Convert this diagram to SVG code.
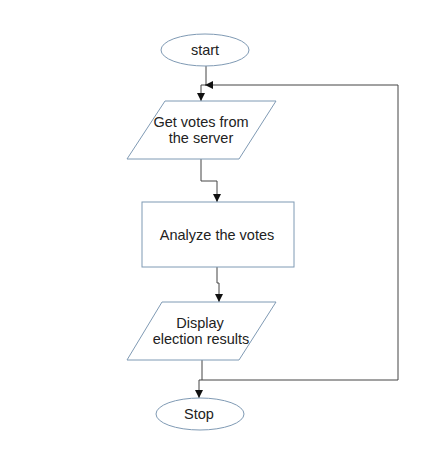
<svg xmlns="http://www.w3.org/2000/svg" width="431" height="456" viewBox="0 0 431 456">
<style>
.shape{fill:#fff;stroke:#7f9ab4;stroke-width:1}
.conn{fill:none;stroke:#444;stroke-width:1}
text{font-family:"Liberation Sans",Arial,sans-serif;font-size:14.5px;fill:#222;text-anchor:middle}
</style>
<defs>
<marker id="arr" viewBox="0 0 10 10" refX="10" refY="5" markerWidth="8" markerHeight="8" markerUnits="userSpaceOnUse" orient="auto">
<path d="M0,0 L10,5 L0,10 Z" fill="#111"/>
</marker>
</defs>
<rect width="431" height="456" fill="#fff"/>
<g id="connectors">
<path class="conn" d="M206,66 V85 H201 V101" marker-end="url(#arr)"/>
<path class="conn" d="M201,159 V181 H217 V202" marker-end="url(#arr)"/>
<path class="conn" d="M217,267 V283 H219 V302" marker-end="url(#arr)"/>
<path class="conn" d="M202,360 V380 H199 V398" marker-end="url(#arr)"/>
<path class="conn" d="M202,380 H398 V85 H205" marker-end="url(#arr)"/>
</g>
<g id="start">
<ellipse class="shape" cx="205" cy="50" rx="44" ry="16"/>
<text x="205" y="55">start</text>
</g>
<g id="get-votes">
<polygon class="shape" points="165,101 276,101 239,159 127,159"/>
<text x="201" y="127">Get votes from</text>
<text x="201" y="143">the server</text>
</g>
<g id="analyze">
<rect class="shape" x="142" y="202" width="152" height="65"/>
<text x="217" y="240">Analyze the votes</text>
</g>
<g id="display">
<polygon class="shape" points="162,302 276,302 239,360 127,360"/>
<text x="200" y="328">Display</text>
<text x="201" y="344">election results</text>
</g>
<g id="stop">
<ellipse class="shape" cx="200" cy="414" rx="44" ry="16"/>
<text x="199" y="419">Stop</text>
</g>
</svg>
